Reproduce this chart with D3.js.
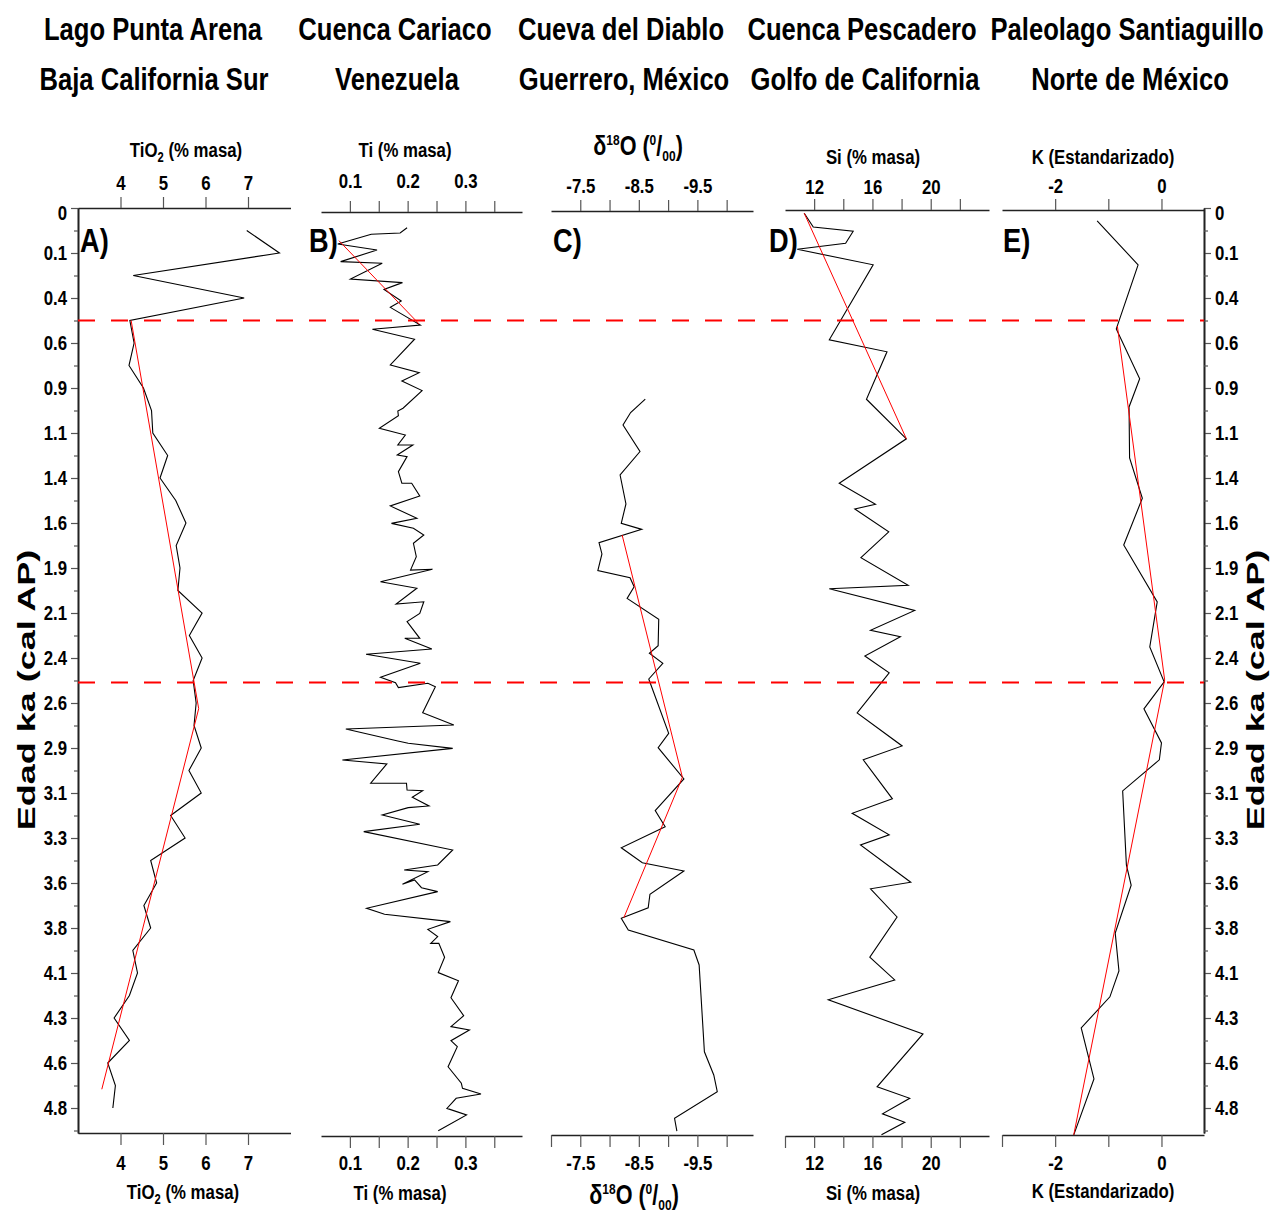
<!DOCTYPE html>
<html><head><meta charset="utf-8">
<script src="https://cdn.jsdelivr.net/npm/d3@7"></script>
<style>body{margin:0;background:#fff;}</style>
</head><body>
<svg id="chart" width="1277" height="1217"></svg>
<script>
// ---------- DATA ----------
const ageTickValues = [0,0.24,0.48,0.72,0.96,1.2,1.44,1.68,1.92,2.16,2.4,2.64,2.88,3.12,3.36,3.6,3.84,4.08,4.32,4.56,4.8];
const ageTickLabels = ["0","0.1","0.4","0.6","0.9","1.1","1.4","1.6","1.9","2.1","2.4","2.6","2.9","3.1","3.3","3.6","3.8","4.1","4.3","4.6","4.8"];
const ageMinorTicks = [0.12,0.36,0.6,0.84,1.08,1.32,1.56,1.8,2.04,2.28,2.52,2.76,3.0,3.24,3.48,3.72,3.96,4.2,4.44,4.68,4.92];
const boundaryAges = [0.6, 2.53];

const titlesLine1 = ["Lago Punta Arena","Cuenca Cariaco","Cueva del Diablo","Cuenca Pescadero","Paleolago Santiaguillo"];
const titlesLine2 = ["Baja California Sur","Venezuela","Guerrero, México","Golfo de California","Norte de México"];
const panelLetters = ["A)","B)","C)","D)","E)"];
const ageAxisTitle = "Edad ka (cal AP)";

// A: TiO2 (% masa), Lago Punta Arena
const ticksA = [4,5,6,7];
const labelsA = [4,5,6,7];
const ageA = [0.12,0.24,0.36,0.48,0.60,0.72,0.84,0.96,1.08,1.20,1.32,1.44,1.56,1.68,1.80,1.92,2.04,2.16,2.28,2.40,2.52,2.64,2.76,2.88,3.00,3.12,3.24,3.36,3.48,3.60,3.72,3.84,3.96,4.08,4.20,4.32,4.44,4.56,4.68,4.80];
const tio2 = [6.97,7.74,4.30,6.91,4.22,4.32,4.20,4.54,4.73,4.76,5.11,4.93,5.30,5.54,5.31,5.40,5.35,5.92,5.62,5.92,5.71,5.78,5.73,5.90,5.61,5.90,5.18,5.52,4.71,4.85,4.55,4.71,4.29,4.40,4.21,3.85,4.21,3.70,3.88,3.82];
const trendAgeA = [0.60,2.67,4.70];
const trendA = [4.25,5.84,3.56];

// B: Ti (% masa), Cuenca Cariaco
const ticksB = [0.1,0.15,0.2,0.25,0.3,0.35];
const labelsB = [0.1,0.2,0.3];
const ageB = [0.105,0.133,0.140,0.192,0.224,0.286,0.295,0.379,0.398,0.434,
0.496,0.530,0.624,0.647,0.700,0.837,0.878,0.923,0.974,1.068,
1.083,1.108,1.175,1.211,1.264,1.264,1.317,1.326,1.406,1.468,
1.468,1.536,1.589,1.655,1.682,1.708,1.744,1.788,1.860,1.931,
1.927,1.993,2.028,2.112,2.100,2.162,2.206,2.295,2.295,2.352,
2.380,2.428,2.503,2.532,2.558,2.535,2.553,2.692,2.757,2.779,
2.843,2.855,2.882,2.944,2.965,3.068,3.068,3.104,3.108,3.143,
3.189,3.198,3.237,3.287,3.326,3.424,3.504,3.531,3.540,3.607,
3.584,3.625,3.646,3.735,3.767,3.806,3.847,3.886,3.922,3.922,
3.996,4.078,4.121,4.212,4.308,4.366,4.384,4.441,4.473,4.580,
4.668,4.695,4.725,4.748,4.802,4.837,4.921];
const tiB = [0.199,0.187,0.137,0.079,0.147,0.084,0.156,0.101,0.191,0.159,
0.189,0.170,0.222,0.139,0.212,0.170,0.220,0.190,0.225,0.192,
0.183,0.184,0.151,0.196,0.183,0.209,0.182,0.199,0.184,0.190,
0.207,0.221,0.170,0.216,0.172,0.210,0.228,0.210,0.215,0.205,
0.243,0.153,0.216,0.180,0.228,0.221,0.199,0.221,0.195,0.242,
0.128,0.222,0.153,0.179,0.184,0.235,0.248,0.226,0.280,0.093,
0.183,0.201,0.278,0.087,0.164,0.136,0.198,0.199,0.226,0.208,
0.237,0.201,0.156,0.221,0.124,0.278,0.252,0.194,0.235,0.191,
0.212,0.224,0.252,0.129,0.160,0.274,0.235,0.252,0.240,0.254,
0.264,0.253,0.288,0.275,0.297,0.275,0.307,0.275,0.286,0.270,
0.293,0.295,0.327,0.284,0.268,0.302,0.253];
const trendAgeB = [0.174,0.619];
const trendB = [0.081,0.220];

// C: d18O (permil), Cueva del Diablo
const ticksC = [-7.5,-8,-8.5,-9,-9.5,-10];
const labelsC = [-7.5,-8.5,-9.5];
const ageC = [1.019,1.091,1.157,1.299,1.424,1.578,1.682,1.714,1.785,1.845,
1.934,1.972,2.020,2.082,2.194,2.334,2.375,2.428,2.512,2.802,
2.878,3.045,3.214,3.300,3.412,3.492,3.536,3.660,3.732,3.788,
3.851,3.957,4.037,4.500,4.624,4.713,4.855,4.923];
const d18O = [-8.61,-8.36,-8.23,-8.52,-8.18,-8.28,-8.20,-8.55,-7.82,-7.87,
-7.80,-8.35,-8.42,-8.30,-8.84,-8.83,-8.68,-8.91,-8.67,-9.01,
-8.83,-9.27,-8.78,-8.95,-8.20,-8.56,-9.27,-8.69,-8.66,-8.20,
-8.32,-9.44,-9.53,-9.62,-9.78,-9.84,-9.11,-9.15];
const trendAgeC = [1.744,3.036,3.785];
const trendC = [-8.215,-9.244,-8.244];

// D: Si (% masa), Cuenca Pescadero
const ticksD = [12,14,16,18,20,22];
const labelsD = [12,16,20];
const ageD = [0.028,0.101,0.124,0.188,0.220,0.303,0.703,0.767,1.020,1.231,
1.468,1.580,1.605,1.727,1.865,2.012,2.031,2.146,2.252,2.287,
2.389,2.479,2.693,2.869,2.943,3.151,3.228,3.343,3.397,3.596,
3.631,3.781,3.996,4.117,4.223,4.405,4.687,4.748,4.831,4.876,4.943];
const siD = [11.32,11.94,14.68,14.16,10.84,16.05,13.04,17.00,15.59,18.33,
13.72,16.21,14.79,17.12,15.21,18.45,13.04,18.90,15.87,17.92,
15.48,17.15,14.95,18.04,15.37,17.37,14.61,17.15,15.18,18.63,
15.87,17.69,15.82,17.53,12.97,19.47,16.32,18.56,16.69,18.22,16.62];
const trendAgeD = [0.028,1.231];
const trendD = [11.32,18.33];

// E: K (Estandarizado), Paleolago Santiaguillo
const ticksE = [-2,-1,0];
const labelsE = [-2,0];
const ageE = [0.069,0.303,0.645,0.911,1.061,1.333,1.548,1.797,2.101,2.341,2.527,2.671,2.853,2.943,3.109,3.503,3.612,3.867,4.069,4.207,4.373,4.645,4.943];
const kE = [-1.21,-0.44,-0.85,-0.41,-0.61,-0.60,-0.36,-0.71,-0.08,-0.22,0.05,-0.33,0.00,-0.04,-0.73,-0.66,-0.57,-0.87,-0.80,-0.97,-1.51,-1.27,-1.65];
const trendAgeE = [0.629,2.517,4.943];
const trendE = [-0.83,0.06,-1.65];

// ---------- LAYOUT ----------
const SANS = "'Liberation Sans',Arial,sans-serif";
const NS = 0.8; // horizontal condensation to mimic a narrow typeface
const svg = d3.select('#chart');
const y = d3.scaleLinear().domain([0, 4.9333]).range([208, 1133]);

const panels = [
  {domain:[3,8], x0:78, x1:290.5, ticks:ticksA, labels:labelsA, fmt:d=>String(d), topY:208, botY:1133, startTick:false,
   age:ageA, val:tio2, tAge:trendAgeA, tVal:trendA, tcx:[153,154], letterX:80,
   axT:[186,157], axB:[183,1199], topLab:190},
  {domain:[0.05,0.398], x0:321, x1:522, ticks:ticksB, labels:labelsB, fmt:d=>d.toFixed(1), topY:212, botY:1136, startTick:false,
   age:ageB, val:tiB, tAge:trendAgeB, tVal:trendB, tcx:[395,397], letterX:309,
   axT:[405,157], axB:[400,1200], topLab:188},
  {domain:[-7,-10.45], x0:551, x1:753, ticks:ticksC, labels:labelsC, fmt:d=>d.toFixed(1), topY:211, botY:1135, startTick:true,
   age:ageC, val:d18O, tAge:trendAgeC, tVal:trendC, tcx:[621,624], letterX:553,
   axT:[638,155], axB:[634,1204], topLab:193},
  {domain:[10,24], x0:785, x1:989, ticks:ticksD, labels:labelsD, fmt:d=>String(d), topY:210, botY:1136, startTick:true,
   age:ageD, val:siD, tAge:trendAgeD, tVal:trendD, tcx:[862,865], letterX:769,
   axT:[873,164], axB:[873,1200], topLab:194},
  {domain:[-3,0.8], x0:1002, x1:1204, ticks:ticksE, labels:labelsE, fmt:d=>String(d), topY:210, botY:1135, startTick:true,
   age:ageE, val:kE, tAge:trendAgeE, tVal:trendE, tcx:[1127,1130], letterX:1003,
   axT:[1103,164], axB:[1103,1198], topLab:193}
];

function ntext(x, yy, size, weight){
  const g = svg.append('g').attr('transform', `translate(${x},${yy}) scale(${NS},1)`);
  return g.append('text').attr('text-anchor','middle').attr('font-family',SANS)
    .attr('font-size',size).attr('font-weight',weight||'bold').attr('fill','#000');
}

function styleAxis(g, size, xfix){
  g.attr('font-family', SANS).attr('font-size', size).attr('font-weight','bold');
  g.selectAll('text').attr('fill','#000').attr('transform',`scale(${NS},1)`);
  if(xfix) g.selectAll('text').attr('x', xfix/NS);
  g.selectAll('.domain').attr('stroke','#222').attr('stroke-width',1.6);
  g.selectAll('.tick line').attr('stroke','#555').attr('stroke-width',1.2);
}

// Titles
panels.forEach((p,i)=>{
  ntext(p.tcx[0], 40, 32).text(titlesLine1[i]);
  ntext(p.tcx[1], 90, 32).text(titlesLine2[i]);
});

// axis titles
function axisTitle(i, x, yb){
  const t = ntext(x, yb, i===2 ? 27 : 21, 'bold');
  if(i===0){ t.append('tspan').text('TiO'); t.append('tspan').attr('font-size',14).attr('dy',5).text('2');
             t.append('tspan').attr('dy',-5).text(' (% masa)'); }
  else if(i===1){ t.text('Ti (% masa)'); }
  else if(i===2){
    t.append('tspan').text('δ'); t.append('tspan').attr('font-size',15).attr('dy',-10).text('18');
    t.append('tspan').attr('dy',10).text('O (');
    t.append('tspan').attr('font-size',15).attr('dy',-10).text('0');
    t.append('tspan').attr('dy',10).text('/');
    t.append('tspan').attr('font-size',15).attr('dy',6).text('00');
    t.append('tspan').attr('dy',-6).text(')'); }
  else if(i===3){ t.text('Si (% masa)'); }
  else { t.text('K (Estandarizado)'); }
}

panels.forEach((p,i)=>{
  const x = d3.scaleLinear().domain(p.domain).range([p.x0,p.x1]);
  const fmt = d => p.labels.includes(d) ? p.fmt(d) : '';
  const gt = svg.append('g').attr('transform',`translate(0,${p.topY})`)
    .call(d3.axisTop(x).tickValues(p.ticks).tickFormat(fmt).tickSize(11).tickSizeOuter(0).tickPadding(p.topY - p.topLab - 11 + 0));
  styleAxis(gt, 21);
  gt.selectAll('text').attr('y', p.topLab - p.topY).attr('dy', 0);
  const bt = p.startTick ? [p.domain[0]].concat(p.ticks) : p.ticks;
  const gb = svg.append('g').attr('transform',`translate(0,${p.botY})`)
    .call(d3.axisBottom(x).tickValues(bt).tickFormat(fmt).tickSize(12).tickSizeOuter(0).tickPadding(8));
  styleAxis(gb, 21);
  gb.selectAll('text').attr('y', 1170 - p.botY).attr('dy', 0);
  axisTitle(i, p.axT[0], p.axT[1]);
  axisTitle(i, p.axB[0], p.axB[1]);

  // panel letter
  const lt = ntext(p.letterX, 252, 34, 'bold').attr('text-anchor','start').text(panelLetters[i]);
  lt.attr('x', 0);

  // data line and trend
  const line = d3.line().x(d=>x(d[1])).y(d=>y(d[0]));
  svg.append('path').datum(d3.zip(p.age,p.val)).attr('d',line)
    .attr('fill','none').attr('stroke','#000').attr('stroke-width',1.1).attr('stroke-linejoin','miter');
  svg.append('path').datum(d3.zip(p.tAge,p.tVal)).attr('d',line)
    .attr('fill','none').attr('stroke','#ff0000').attr('stroke-width',1);
});

// Left age axis (panel A)
const gl = svg.append('g').attr('transform','translate(78,0)')
  .call(d3.axisLeft(y).tickValues(ageTickValues).tickFormat((d,i)=>ageTickLabels[i]).tickSize(7).tickSizeOuter(0).tickPadding(4));
styleAxis(gl, 21, -11);
gl.selectAll('.tick').filter((d,i)=>i===0).select('text').attr('dy','0.55em');
const glm = svg.append('g').attr('transform','translate(78,0)')
  .call(d3.axisLeft(y).tickValues(ageMinorTicks).tickFormat('').tickSize(4).tickSizeOuter(0));
styleAxis(glm, 21);

// Right age axis (panel E)
const gr = svg.append('g').attr('transform','translate(1204,0)')
  .call(d3.axisRight(y).tickValues(ageTickValues).tickFormat((d,i)=>ageTickLabels[i]).tickSize(7).tickSizeOuter(0).tickPadding(4));
styleAxis(gr, 21, 11);
gr.selectAll('.tick').filter((d,i)=>i===0).select('text').attr('dy','0.55em');
const grm = svg.append('g').attr('transform','translate(1204,0)')
  .call(d3.axisRight(y).tickValues(ageMinorTicks).tickFormat('').tickSize(4).tickSizeOuter(0));
styleAxis(grm, 21);

// Age axis titles
[27, 1256].forEach(xx=>{
  svg.append('text').attr('transform',`translate(${xx+8},690) rotate(-90) scale(1.5,1)`)
    .attr('text-anchor','middle').attr('font-family',SANS).attr('font-weight','bold')
    .attr('font-size',24).text(ageAxisTitle);
});

// Boundary dashed lines
svg.selectAll('line.boundary').data(boundaryAges).enter().append('line')
  .attr('class','boundary').attr('x1',78).attr('x2',1204)
  .attr('y1',d=>y(d)).attr('y2',d=>y(d))
  .attr('stroke','#ff0000').attr('stroke-width',2).attr('stroke-dasharray','17,16');
</script>
</body></html>
